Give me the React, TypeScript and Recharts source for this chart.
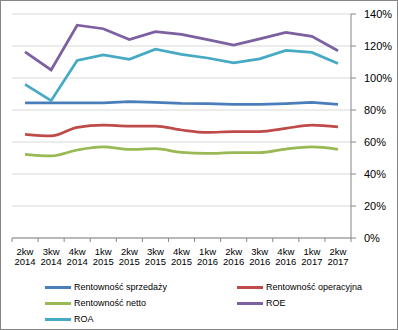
import { ComposedChart, Line, XAxis, YAxis, CartesianGrid, Legend } from 'recharts'

const periods = ['2kw 2014', '3kw 2014', '4kw 2014', '1kw 2015', '2kw 2015', '3kw 2015', '4kw 2015', '1kw 2016', '2kw 2016', '3kw 2016', '4kw 2016', '1kw 2017', '2kw 2017']
const sprzedazy = [84.5, 84.5, 84.5, 84.5, 85.2, 84.7, 84.1, 84.0, 83.5, 83.5, 84.0, 84.8, 83.5]
const operacyjna = [64.8, 63.8, 69.2, 70.6, 70.0, 70.0, 67.5, 66.0, 66.5, 66.5, 68.5, 70.6, 69.4]
const netto = [52.3, 51.3, 55.0, 56.9, 55.4, 55.8, 53.5, 52.9, 53.3, 53.3, 55.6, 56.9, 55.4]
const roe = [116.4, 105.0, 133.0, 130.8, 124.0, 129.0, 127.3, 124.0, 120.6, 124.4, 128.5, 126.0, 117.0]
const roa = [96.0, 85.8, 111.0, 114.4, 111.7, 118.0, 114.8, 112.5, 109.4, 112.0, 117.3, 116.0, 109.0]
const yTicks = [0, 20, 40, 60, 80, 100, 120, 140]

const series = [
    { key: 'sprzedazy', name: 'Rentowność sprzedaży', color: '#4A7EBB', type: 'linear' },
    { key: 'operacyjna', name: 'Rentowność operacyjna', color: '#BE4B48', type: 'monotone' },
    { key: 'netto', name: 'Rentowność netto', color: '#98B954', type: 'monotone' },
    { key: 'roe', name: 'ROE', color: '#7D60A0', type: 'linear' },
    { key: 'roa', name: 'ROA', color: '#46AAC5', type: 'linear' },
] as const

const data = periods.map((p, i) => ({
    period: p,
    sprzedazy: sprzedazy[i],
    operacyjna: operacyjna[i],
    netto: netto[i],
    roe: roe[i],
    roa: roa[i],
}))

const font = '"Liberation Sans", Arial, sans-serif'
const plotLeft = 12
const plotRight = 351
const band = (plotRight - plotLeft) / periods.length

function PeriodTick(props: any) {
    const { x, y, payload, index } = props
    const [q, yr] = String(payload.value).split(' ')
    const last = index === periods.length - 1
    const half = band / 2
    return (
        <g>
            <line x1={x - half} x2={x - half} y1={y - 4} y2={y} stroke="#868686" />
            {last && <line x1={x + half} x2={x + half} y1={y - 4} y2={y} stroke="#868686" />}
            <text x={x} y={y} textAnchor="middle" fontSize={9.5} fontFamily={font} fill="#000">
                <tspan x={x} dy={12.5}>{q}</tspan>
                <tspan x={x} dy={10.5}>{yr}</tspan>
            </text>
        </g>
    )
}

function LegendContent() {
    return (
        <div style={{ display: 'grid', gridTemplateColumns: '192px 160px', paddingLeft: 45, fontFamily: font, fontSize: 9, color: '#000' }}>
            {series.map(s => (
                <div key={s.key} style={{ display: 'flex', alignItems: 'center', height: 16 }}>
                    <span style={{ display: 'inline-block', width: 26, height: 3, background: s.color, marginRight: 3 }} />
                    <span>{s.name}</span>
                </div>
            ))}
        </div>
    )
}

export default function App() {
    return (
        <div style={{ position: 'absolute', left: 0, top: 0, width: 398, height: 330, background: '#fff' }}>
            <ComposedChart width={398} height={330} data={data} margin={{ top: 14, right: 0, left: plotLeft, bottom: 62 }}>
                <CartesianGrid vertical={false} stroke="#D9D9D9" />
                <XAxis
                    dataKey="period"
                    scale="band"
                    interval={0}
                    height={30}
                    stroke="#868686"
                    tickLine={false}
                    tickSize={4}
                    tickMargin={0}
                    tick={<PeriodTick />}
                />
                <YAxis
                    orientation="right"
                    width={47}
                    domain={[0, 140]}
                    ticks={yTicks}
                    interval={0}
                    stroke="#868686"
                    tickSize={5}
                    tickMargin={8}
                    tickFormatter={(v: number) => `${v}%`}
                    tick={{ fontSize: 11, fill: '#000', fontFamily: font }}
                />
                <Legend
                    verticalAlign="middle"
                    align="center"
                    content={<LegendContent />}
                    wrapperStyle={{ left: 0, top: 279, width: 398 }}
                />
                {series.map(s => (
                    <Line
                        key={s.key}
                        type={s.type}
                        dataKey={s.key}
                        name={s.name}
                        stroke={s.color}
                        strokeWidth={2.75}
                        dot={false}
                        activeDot={false}
                        isAnimationActive={false}
                    />
                ))}
            </ComposedChart>
            <div style={{ position: 'absolute', inset: 0, border: '1px solid #868686', pointerEvents: 'none' }} />
        </div>
    )
}
